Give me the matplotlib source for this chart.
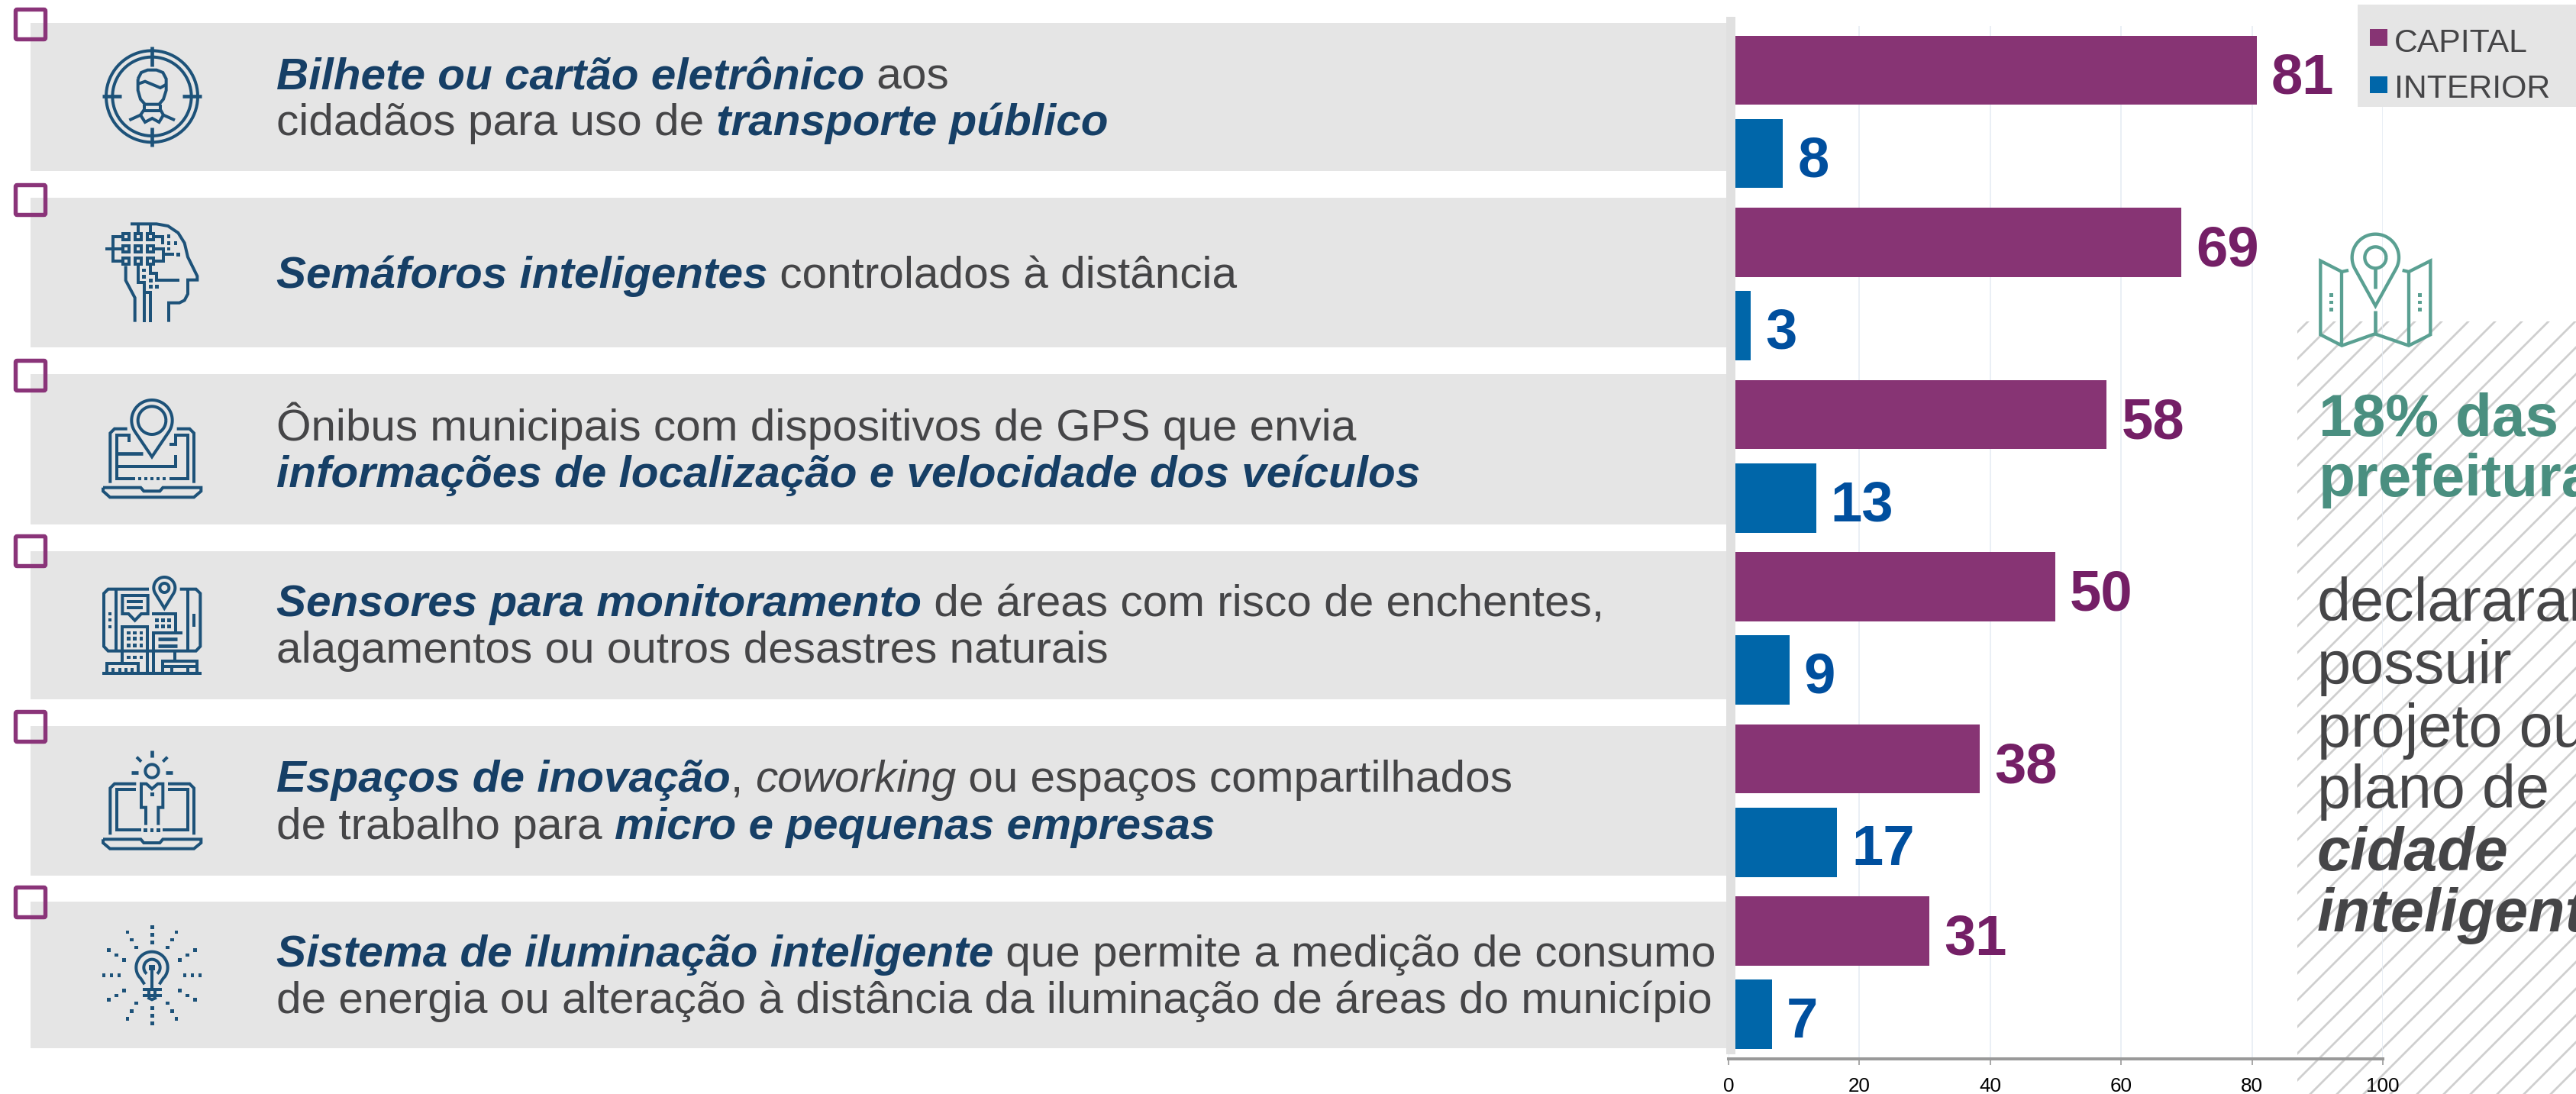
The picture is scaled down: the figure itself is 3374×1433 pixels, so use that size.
import numpy as np
import matplotlib
matplotlib.use('Agg')
import matplotlib.pyplot as plt
from matplotlib.patches import Rectangle, FancyBboxPatch
from matplotlib.font_manager import FontProperties

plt.rcParams['font.family'] = ['Liberation Sans', 'DejaVu Sans']

W, H = 3374, 1433

# dados (os rotulos sao os valores arredondados)
capital = [80.7, 69.2, 57.8, 49.9, 38.4, 30.7]
interior = [8.3, 3.4, 13.4, 9.3, 16.6, 6.6]
ticks = [0, 20, 40, 60, 80, 100]
legend_names = ['CAPITAL', 'INTERIOR']

# b = negrito italico azul, n = normal, i = italico
labels = [
    [[('Bilhete ou cartão eletrônico', 'b'), (' aos', 'n')],
     [('cidadãos para uso de ', 'n'), ('transporte público', 'b')]],
    [[('Semáforos inteligentes', 'b'), (' controlados à distância', 'n')]],
    [[('Ônibus municipais com dispositivos de GPS que envia', 'n')],
     [('informações de localização e velocidade dos veículos', 'b')]],
    [[('Sensores para monitoramento', 'b'), (' de áreas com risco de enchentes,', 'n')],
     [('alagamentos ou outros desastres naturais', 'n')]],
    [[('Espaços de inovação', 'b'), (', ', 'n'), ('coworking', 'i'), (' ou espaços compartilhados', 'n')],
     [('de trabalho para ', 'n'), ('micro e pequenas empresas', 'b')]],
    [[('Sistema de iluminação inteligente', 'b'), (' que permite a medição de consumo', 'n')],
     [('de energia ou alteração à distância da iluminação de áreas do município', 'n')]],
]
baselines = [[116, 177], [377], [577, 638], [807, 868], [1037, 1099], [1266, 1327]]
panels = [(30, 224), (259, 455), (490, 687), (722, 916), (951, 1147), (1181, 1373)]
checks = [10, 240, 470, 700, 930, 1160]

side_green = [('18% das', 571), ('prefeituras', 650)]
side_grey = [('declararam', 813, 'normal'), ('possuir', 895, 'normal'),
             ('projeto ou', 978, 'normal'), ('plano de', 1058, 'normal'),
             ('cidade', 1140, 'italic'), ('inteligente', 1220, 'italic')]

PURPLE = '#873474'
BLUE = '#0066a9'
PURPLE_TXT = '#741f66'
BLUE_TXT = '#004f9e'
PANEL = '#e5e5e5'
DARK = '#163f66'
GREY = '#454547'
ICON = '#1d5279'
TEAL = '#5aa092'
TEAL_TXT = '#4a8f80'
LABEL_SIZE = 42.1

fig = plt.figure(figsize=(W / 100, H / 100), dpi=100, facecolor='white')

# camada de fundo e camada de frente, em pixels
bg = fig.add_axes([0, 0, 1, 1], zorder=0)
fg = fig.add_axes([0, 0, 1, 1], zorder=2)
for a in (bg, fg):
    a.set_xlim(0, W)
    a.set_ylim(H, 0)
    a.axis('off')
    a.patch.set_alpha(0)

# hachura
clip = Rectangle((3009, 421), W - 3009, H - 421, transform=bg.transData, fc='none', ec='none')
bg.add_patch(clip)
for c in np.arange(3479 - 35 * 2, 3374 + 1433 + 35, 35):
    ln, = bg.plot([c - 421, c - 1433], [421, 1433], color='#cfcfcf', lw=2.0)
    ln.set_clip_path(clip)

# grafico
top, bottom = 33.8, 1387
ax = fig.add_axes([2264 / W, 1 - bottom / H, (3121 - 2264) / W, (bottom - top) / H], zorder=1)
ax.patch.set_alpha(0)
ypos = np.arange(len(capital))
ax.barh(ypos - 0.242, capital, height=0.402, color=PURPLE, zorder=3)
ax.barh(ypos + 0.242, interior, height=0.402, color=BLUE, zorder=3)
ax.set_xlim(0, 100)
ax.set_ylim(len(capital) - 0.5, -0.5)
ax.set_xticks(ticks)
ax.set_yticks([])
ax.grid(axis='x', color='#e6ecf4', lw=1.2, zorder=0)
ax.set_axisbelow(True)
for s in ('top', 'left', 'right'):
    ax.spines[s].set_visible(False)
ax.spines['bottom'].set_color('#999999')
ax.spines['bottom'].set_linewidth(2.9)
ax.tick_params(axis='x', length=6, width=1.2, color='#999999', labelsize=18.7,
               labelcolor='black', pad=11)
for i in ypos:
    ax.annotate(str(round(capital[i])), (capital[i], i - 0.242), xytext=(19, -31),
                textcoords='offset pixels', fontsize=53.5, fontweight='bold',
                color=PURPLE_TXT, va='baseline', ha='left', zorder=5)
    ax.annotate(str(round(interior[i])), (interior[i], i + 0.242), xytext=(19, -30),
                textcoords='offset pixels', fontsize=53.5, fontweight='bold',
                color=BLUE_TXT, va='baseline', ha='left', zorder=5)

# paineis da esquerda
for (y0, y1), yc in zip(panels, checks):
    bg.add_patch(Rectangle((40, y0), 2261 - 40, y1 - y0, fc=PANEL, ec='none'))
    fg.add_patch(FancyBboxPatch((20.5, yc + 2.5), 39, 39, boxstyle='round,pad=0,rounding_size=2',
                                fc='none', ec='#8a3479', lw=3.9))
fg.add_patch(Rectangle((2261, 22), 12, 1381 - 22, fc='#e0e0e0', ec='none'))

# legenda
fg.add_patch(Rectangle((3088, 6), W - 3088, 134, fc=PANEL, ec='none'))
fg.add_patch(Rectangle((3104, 38), 23, 22, fc=PURPLE, ec='none'))
fg.add_patch(Rectangle((3104, 100), 23, 22, fc=BLUE, ec='none'))
fg.text(3136, 68, legend_names[0], fontsize=30.8, color=GREY, va='baseline')
fg.text(3136, 128, legend_names[1], fontsize=30.8, color=GREY, va='baseline')

# texto misto
renderer = fig.canvas.get_renderer()
styles = {'b': dict(style='italic', weight='bold', color=DARK),
          'n': dict(style='normal', weight='normal', color=GREY),
          'i': dict(style='italic', weight='normal', color=GREY)}


def width(s, size, st):
    fp = FontProperties(family='Liberation Sans', size=size, style=st['style'], weight=st['weight'])
    w1 = renderer.get_text_width_height_descent(s + '|', fp, False)[0]
    w2 = renderer.get_text_width_height_descent('|', fp, False)[0]
    return w1 - w2


for rows, ys in zip(labels, baselines):
    for parts, y in zip(rows, ys):
        x = 362
        for s, k in parts:
            st = styles[k]
            fg.text(x, y, s, fontsize=LABEL_SIZE, va='baseline', ha='left', **st)
            x += width(s, LABEL_SIZE, st)

# texto da direita
for s, y in side_green:
    fg.text(3037, y, s, fontsize=56.5, fontweight='bold', color=TEAL_TXT, va='baseline')
for s, y, st in side_grey:
    fg.text(3035, y, s, fontsize=57, color=GREY, va='baseline', style=st,
            fontweight='bold' if st == 'italic' else 'normal')


# icones: coordenadas em pixels da ampliacao 3x
def L(ox, oy, pts, lw=12, color=ICON):
    xs = [ox + p[0] / 3 for p in pts]
    ys = [oy + p[1] / 3 for p in pts]
    fg.plot(xs, ys, color=color, lw=lw / 3 * 0.72, solid_joinstyle='miter', solid_capstyle='butt')


def arc(cx, cy, r, a0=0, a1=360, n=80):
    t = np.radians(np.linspace(a0, a1, n))
    return list(zip(cx + r * np.cos(t), cy + r * np.sin(t)))


def dots(ox, oy, pts, s=14, color=ICON):
    for px, py in pts:
        fg.add_patch(Rectangle((ox + (px - s / 2) / 3, oy + (py - s / 2) / 3), s / 3, s / 3, fc=color, ec='none'))


def pin(ox, oy, cx, cy, r, tip, lw=12, color=ICON):
    phi = np.degrees(np.arccos(r / (tip - cy)))
    L(ox, oy, arc(cx, cy, r, 90 + phi, 360 + 90 - phi) + [(cx, tip)] + arc(cx, cy, r, 90 + phi, 90 + phi, 1),
      lw, color)


def laptop_base(ox, oy, y0, y1, y2):
    L(ox, oy, [(405, y0), (553, y0), (565, y1), (628, y1), (640, y0), (790, y0), (790, y1),
               (762, y2), (432, y2), (405, y1), (405, y0)])


# 1 - pessoa no alvo
ox, oy = 110, 40
L(ox, oy, arc(267, 259, 180))
L(ox, oy, arc(267, 259, 155))
L(ox, oy, [(267, 63), (267, 140)], 14)
L(ox, oy, [(267, 380), (267, 456)], 14)
L(ox, oy, [(72, 259), (147, 259)], 14)
L(ox, oy, [(387, 259), (462, 259)], 14)
L(ox, oy, [(212, 190), (225, 165), (250, 155), (285, 155), (310, 165), (323, 190), (323, 235),
           (312, 270), (295, 290), (240, 290), (222, 270), (212, 235), (212, 190)])
L(ox, oy, [(212, 210), (240, 200), (300, 225), (323, 212)])
L(ox, oy, [(237, 290), (237, 315), (300, 315), (300, 290)])
L(ox, oy, [(178, 352), (222, 332), (240, 360), (268, 345), (295, 360), (312, 332), (357, 352)])
L(ox, oy, [(222, 332), (237, 310)])
L(ox, oy, [(312, 332), (300, 310)])

# 2 - cabeca
ox, oy = 110, 270
L(ox, oy, [(183, 70), (285, 70), (330, 78), (370, 105), (395, 145), (408, 200), (445, 275), (445, 290),
           (408, 290), (408, 345), (395, 370), (375, 380), (333, 380), (333, 455)])
L(ox, oy, [(213, 70), (213, 105)])
L(ox, oy, [(261, 70), (261, 105)])
for qy in (120, 168, 216):
    for qx in (164, 213, 261):
        L(ox, oy, [(qx - 12, qy - 12), (qx + 12, qy - 12), (qx + 12, qy + 12), (qx - 12, qy + 12), (qx - 12, qy - 18)])
L(ox, oy, [(146, 120), (115, 120), (115, 216), (146, 216)])
L(ox, oy, [(85, 168), (146, 168)])
L(ox, oy, [(280, 120), (310, 120), (310, 150)])
L(ox, oy, [(280, 168), (312, 168), (312, 216), (280, 216)])
L(ox, oy, [(312, 190), (355, 190)])
dots(ox, oy, [(333, 118), (333, 145), (360, 145), (333, 168), (370, 190), (235, 252), (235, 277),
              (262, 292), (262, 316), (286, 316)])
L(ox, oy, [(164, 235), (164, 292), (200, 360), (200, 455)])
L(ox, oy, [(213, 235), (213, 300), (237, 300), (237, 455)])
L(ox, oy, [(261, 235), (261, 265), (286, 265), (286, 290), (375, 290)])
L(ox, oy, [(237, 338), (261, 338), (261, 455)])

# 3 - laptop com pino
ox, oy = 0, 480
pin(ox, oy, 597, 212, 80, 355)
L(ox, oy, arc(597, 212, 55))
L(ox, oy, [(500, 245), (450, 245), (433, 262), (433, 458)])
L(ox, oy, [(695, 245), (745, 245), (762, 262), (762, 458)])
L(ox, oy, [(507, 298), (507, 270), (458, 270), (458, 440), (530, 440)])
L(ox, oy, [(665, 305), (690, 305), (690, 270), (738, 270), (738, 440), (665, 440)])
L(ox, oy, [(458, 343), (560, 343)], 14)
L(ox, oy, [(458, 392), (690, 392), (690, 348)])
dots(ox, oy, [(549, 440), (573, 440), (597, 440), (621, 440), (645, 440)], 12)
laptop_base(ox, oy, 476, 490, 514)

# 4 - celular e predios
ox, oy = 0, 480
L(ox, oy, [(585, 875), (425, 875), (408, 892), (408, 1100), (425, 1118), (770, 1118), (787, 1100),
           (787, 892), (770, 875), (707, 875)])
L(ox, oy, [(456, 875), (456, 1118)])
L(ox, oy, [(738, 875), (738, 1118)])
pin(ox, oy, 646, 870, 42, 950)
L(ox, oy, arc(646, 870, 18))
L(ox, oy, [(481, 900), (581, 900), (581, 972), (555, 972), (530, 998), (505, 972), (481, 972), (481, 894)])
L(ox, oy, [(498, 923), (562, 923)])
L(ox, oy, [(498, 948), (562, 948)])
dots(ox, oy, [(432, 972), (432, 997), (432, 1022)], 12)
L(ox, oy, [(762, 972), (762, 1022)])
L(ox, oy, [(597, 972), (690, 972), (690, 1040)])
L(ox, oy, [(480, 1165), (480, 1022), (580, 1022), (580, 1200)])
L(ox, oy, [(597, 1047), (718, 1047)])
L(ox, oy, [(603, 1047), (603, 1200)])
L(ox, oy, [(620, 1070), (696, 1070)], 14)
L(ox, oy, [(620, 1097), (696, 1097)], 14)
dots(ox, oy, [(dx, dy) for dx in (505, 530, 555) for dy in (1047, 1070, 1097, 1143)], 14)
dots(ox, oy, [(dx, dy) for dx in (617, 641, 665) for dy in (997, 1022)], 14)
L(ox, oy, [(688, 1118), (688, 1155)])
L(ox, oy, [(640, 1200), (640, 1157), (775, 1157), (775, 1200)])
L(ox, oy, [(640, 1180), (775, 1180)])
L(ox, oy, [(420, 1200), (420, 1168), (542, 1168), (542, 1200)])
L(ox, oy, [(402, 1206), (792, 1206)])
for tx in (445, 470, 495, 520):
    L(ox, oy, [(tx, 1186), (tx, 1200)])
for tx in (675, 738):
    L(ox, oy, [(tx, 1186), (tx, 1200)])

# 5 - pessoa no laptop
ox, oy = 0, 930
L(ox, oy, [(598, 160), (598, 186)], 14)
L(ox, oy, [(537, 185), (555, 203)], 12)
L(ox, oy, [(658, 185), (640, 203)], 12)
L(ox, oy, [(516, 247), (543, 247)], 14)
L(ox, oy, [(652, 247), (678, 247)], 14)
L(ox, oy, arc(597, 240, 26))
L(ox, oy, [(535, 290), (450, 290), (433, 307), (433, 490)])
L(ox, oy, [(660, 290), (745, 290), (762, 307), (762, 490)])
L(ox, oy, [(535, 313), (458, 313), (458, 472), (555, 472)])
L(ox, oy, [(660, 313), (738, 313), (738, 472), (640, 472)])
L(ox, oy, [(573, 452), (573, 383), (555, 383), (555, 290), (575, 290), (597, 310), (620, 290), (640, 290),
           (640, 383), (622, 383), (622, 452)])
dots(ox, oy, [(598, 332), (571, 472), (597, 472), (622, 472)], 14)
laptop_base(ox, oy, 508, 522, 545)

# 6 - lampada
ox, oy = 0, 930
dots(ox, oy, [(598, 853), (598, 883), (598, 913), (598, 1171), (598, 1201), (598, 1231),
              (408, 1042), (438, 1042), (468, 1042), (726, 1042), (756, 1042), (786, 1042),
              (501, 873), (517, 903), (535, 933), (693, 873), (676, 903), (658, 933),
              (428, 943), (457, 963), (487, 983), (766, 943), (736, 963), (706, 983),
              (487, 1102), (457, 1122), (428, 1138), (706, 1102), (736, 1122), (766, 1138),
              (535, 1152), (517, 1183), (501, 1213), (658, 1152), (676, 1183), (693, 1213)], 14)
L(ox, oy, [(568, 1078), (553, 1055)] + arc(597, 1012, 62, 145, 395) + [(641, 1055), (626, 1078)])
L(ox, oy, arc(597, 1012, 32, 130, 410))
L(ox, oy, [(597, 1005), (597, 1095)])
dots(ox, oy, [(597, 1012)], 22)
L(ox, oy, [(562, 1098), (636, 1098)])
L(ox, oy, [(562, 1122), (636, 1122)])
L(ox, oy, [(585, 1098), (585, 1122)])
L(ox, oy, [(610, 1098), (610, 1122)])
L(ox, oy, [(580, 1130), (597, 1138), (615, 1130)], 12)

# mapa verde
ox, oy = 2980, 280
L(ox, oy, [(288, 222), (262, 228), (178, 185), (178, 475), (262, 518), (392, 472), (525, 518), (610, 475),
           (610, 185), (525, 228), (500, 222)], 13, TEAL)
L(ox, oy, [(262, 228), (262, 518)], 13, TEAL)
L(ox, oy, [(525, 228), (525, 518)], 13, TEAL)
L(ox, oy, [(394, 380), (394, 472)], 14, TEAL)
pin(ox, oy, 394, 172, 92, 362, 13, TEAL)
L(ox, oy, arc(394, 172, 42), 13, TEAL)
L(ox, oy, [(394, 215), (394, 293)], 14, TEAL)
dots(ox, oy, [(220, 320), (220, 348), (220, 376), (568, 320), (568, 348), (568, 376)], 14, TEAL)

fg.set_xlim(0, W)
fg.set_ylim(H, 0)
fig.savefig('out.png', dpi=100)
